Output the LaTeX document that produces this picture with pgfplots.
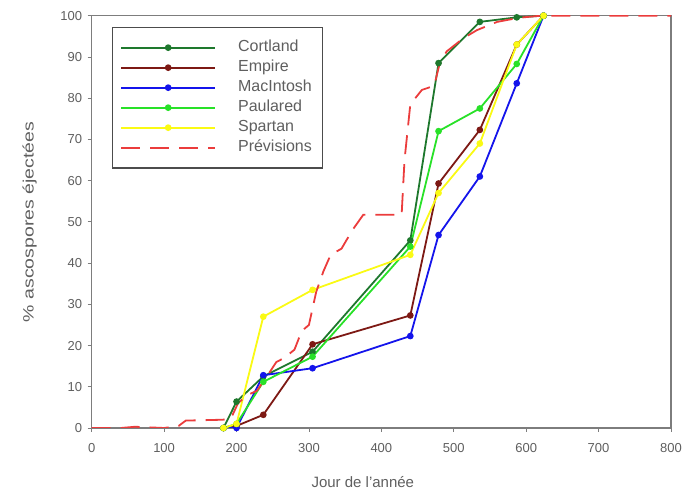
\documentclass[border=0pt]{standalone}
\usepackage{fontspec}
\setmainfont{Liberation Sans}
\usepackage{graphicx}
\usepackage{pgfplots}
\pgfplotsset{compat=1.18}

\definecolor{cortland}{RGB}{30,120,45}
\definecolor{empire}{RGB}{125,25,20}
\definecolor{mac}{RGB}{20,20,235}
\definecolor{paulared}{RGB}{40,225,40}
\definecolor{spartan}{RGB}{250,250,20}
\definecolor{prev}{RGB}{235,60,60}
\definecolor{axisgray}{RGB}{125,125,125}
\definecolor{labelgray}{RGB}{95,95,95}

\begin{document}
\begin{tikzpicture}
\useasboundingbox (-91.7pt,-69pt) rectangle (599.3pt,428pt);
\begin{axis}[
  scale only axis, width=579.3pt, height=412.3pt,
  xmin=0, xmax=800, ymin=0, ymax=100,
  xtick={0,100,...,800}, ytick={0,10,...,100},
  tick pos=left, tick align=outside,
  major tick length=4pt,
  axis line style={axisgray, line width=1.2pt},
  every tick/.style={axisgray, line width=0.8pt},
  /pgf/number format/assume math mode=true,
  ticklabel style={font=\fontsize{13}{15}\selectfont, text=labelgray},
  xticklabel style={yshift=-8pt},
  yticklabel style={xshift=-2pt},
  xlabel={Jour de l'année},
  ylabel={\scalebox{1.3}[1]{\% ascospores éjectées}},
  label style={font=\fontsize{15}{17}\selectfont, text=labelgray},
  xlabel style={at={(axis description cs:0.468,-0.131)}, anchor=center},
  ylabel style={at={(axis description cs:-0.107,0.5)}, anchor=center},
  legend cell align=left,
  legend image code/.code={\draw[mark repeat=2,mark phase=2] plot coordinates {(0pt,0pt) (47pt,0pt) (94pt,0pt)};},
  legend style={at={(0.0345,0.973)}, anchor=north west, draw=black!70, line width=1.2pt,
    font=\fontsize{16}{18}\selectfont, text=labelgray,
    inner xsep=8pt, inner ysep=13pt, row sep=5.5pt, column sep=19pt,
    nodes={inner xsep=3pt, inner ysep=0pt, text height=11pt, text depth=3.5pt}},
  every axis plot/.append style={line width=1.8pt, mark size=2.4pt},
]
\addplot[cortland, mark=*] coordinates {
  (182,0) (200,6.4) (237,12.5) (305,18.5) (440,45.5) (479,88.5) (536,98.5) (587,99.6) (624,100)};
\addlegendentry{Cortland}
\addplot[empire, mark=*] coordinates {
  (182,0) (200,0.5) (237,3.2) (305,20.3) (440,27.3) (479,59.3) (536,72.3) (587,93) (624,100)};
\addlegendentry{Empire}
\addplot[mac, mark=*] coordinates {
  (182,0) (200,0) (237,12.8) (305,14.5) (440,22.3) (479,46.8) (536,61) (587,83.6) (624,100)};
\addlegendentry{MacIntosh}
\addplot[paulared, mark=*] coordinates {
  (182,0) (200,1) (237,11.2) (305,17.3) (440,44) (479,72) (536,77.5) (587,88.3) (624,100)};
\addlegendentry{Paulared}
\addplot[spartan, mark=*] coordinates {
  (182,0) (200,1) (237,27) (305,33.5) (440,42) (479,57) (536,69) (587,93) (624,100)};
\addlegendentry{Spartan}
\addplot[prev, no marks, dash pattern=on 19pt off 10pt] coordinates {
  (0,0) (40,0) (60,0.3) (100,0) (120,0.5) (130,1.8) (180,2) (192,2.2)
  (202,6) (215,8) (228,9) (240,12) (255,16) (266,17) (280,19) (290,23.5)
  (300,25) (310,33) (320,38) (330,42) (345,43.5) (360,48) (375,51.7)
  (428,51.7) (432,65) (440,78.5) (456,82) (473,83) (480,88) (490,91.3)
  (513,94.5) (532,96.5) (560,98.5) (590,99.5) (620,100) (800,100)};
\addlegendentry{Prévisions}
\end{axis}
\end{tikzpicture}
\end{document}
